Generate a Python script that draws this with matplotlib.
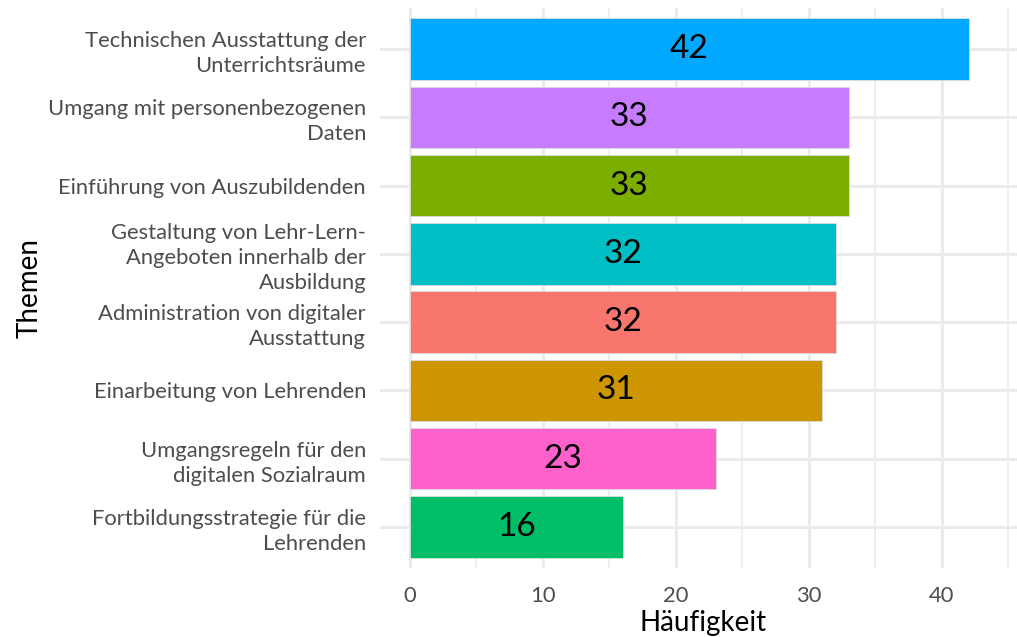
import matplotlib.pyplot as plt
import numpy as np

plt.rcParams['font.family'] = ['Lato', 'DejaVu Sans']

# data (top to bottom)
themen = ["Technischen Ausstattung der\nUnterrichtsräume",
          "Umgang mit personenbezogenen\nDaten",
          "Einführung von Auszubildenden",
          "Gestaltung von Lehr-Lern-\nAngeboten innerhalb der\nAusbildung",
          "Administration von digitaler\nAusstattung",
          "Einarbeitung von Lehrenden",
          "Umgangsregeln für den\ndigitalen Sozialraum",
          "Fortbildungsstrategie für die\nLehrenden"]
haeufigkeit = [42, 33, 33, 32, 32, 31, 23, 16]
farben = ["#00A9FF", "#C77CFF", "#7CAE00", "#00BFC4",
          "#F8766D", "#CD9600", "#FF61CC", "#00BE67"]

W, H = 1017, 637
fig = plt.figure(figsize=(W/100, H/100), dpi=100)
# panel in pixels: left 380, right 1026 (cut off by image edge), top 8, bottom 568
ax = fig.add_axes([380/W, 1-568/H, (1026-380)/W, (568-8)/H])

n = len(themen)
y = np.arange(n)[::-1]
ax.barh(y, haeufigkeit, height=0.9, color=farben, edgecolor='#dddddd', linewidth=0.6, zorder=3)
for yi, v in zip(y, haeufigkeit):
    ax.text(v/2, yi, str(v), ha='center', va='center', fontsize=24, color='black', zorder=4)

ax.set_xlim(-2.25, 46.32)
ax.set_ylim(-0.6, n-1+0.6)
ax.set_xticks([0, 10, 20, 30, 40])
ax.set_xticks([5, 15, 25, 35, 45], minor=True)
ax.set_yticks(y)
ax.set_yticklabels(themen, ha='right', multialignment='right', linespacing=1.3)

ax.grid(which='major', color='#EBEBEB', linewidth=2.2, zorder=0)
ax.grid(which='minor', axis='x', color='#EBEBEB', linewidth=1.2, zorder=0)
for s in ax.spines.values():
    s.set_visible(False)
ax.tick_params(axis='both', which='both', length=0, labelsize=15.8, labelcolor='#4D4D4D')
ax.tick_params(axis='y', pad=10)
ax.tick_params(axis='x', pad=13)

ax.set_xlabel("Häufigkeit", fontsize=20, color='black', labelpad=3)
ax.set_ylabel("Themen", fontsize=20, color='black', labelpad=4)

fig.savefig("out.png", dpi=100, facecolor='white')
